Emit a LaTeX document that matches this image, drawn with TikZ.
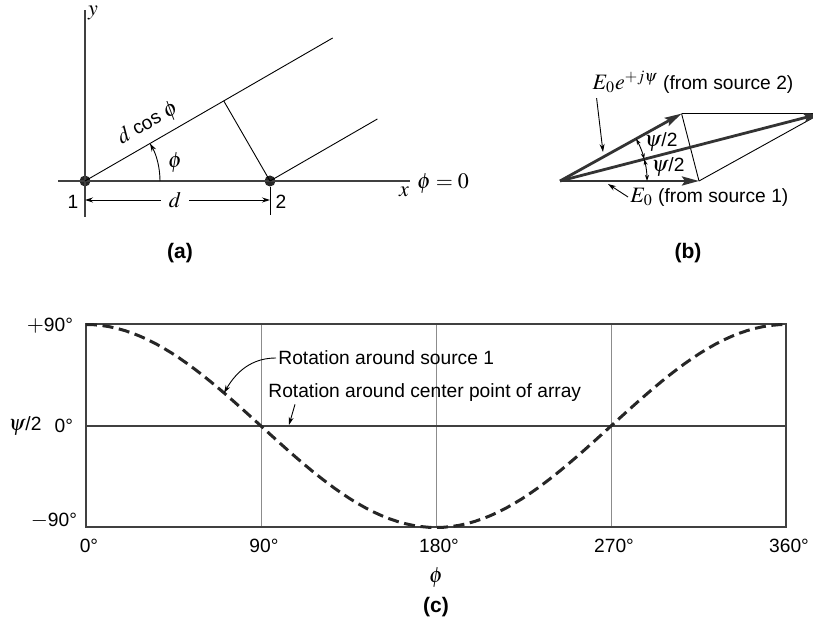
\documentclass[tikz,border=0pt]{standalone}
\usepackage{mathptmx}
\usepackage[no-math]{fontspec}
\setmainfont{Liberation Sans}
\DeclareMathSizes{9.6}{11}{8}{6}
\usetikzlibrary{positioning, arrows.meta, calc}

\begin{document}
\begin{tikzpicture}[
  x=0.5pt, y=0.5pt,
  font=\fontsize{9.6}{11}\selectfont,
  axis/.style={black!75, line width=0.7pt},
  ray/.style={black, line width=0.45pt},
  dot/.style={circle, fill=black!85, inner sep=0pt, minimum size=5.5pt},
  vec/.style={black!80, line width=1.4pt,
    -{Stealth[length=8.5pt, width=4.5pt, inset=1.5pt]}},
  lead/.style={black, line width=0.45pt, -{Stealth[length=4pt, width=2.5pt]}},
  dim/.style={black, line width=0.45pt, -{Stealth[length=4pt, width=2.5pt]}},
  ang/.style={black, line width=0.45pt,
    {Stealth[length=3pt, width=2pt]}-{Stealth[length=3pt, width=2pt]}},
  frame/.style={black!75, line width=0.7pt},
  gridline/.style={black!45, line width=0.4pt},
  curve/.style={black!85, line width=1.5pt, dash pattern=on 5.5pt off 2.8pt},
  panel/.style={font=\fontsize{10.5}{12}\selectfont\bfseries},
]
\useasboundingbox (0,0) rectangle (813,631);

% (a) geometry of the two sources
\node[dot] (s1) at (85,450) {};
\node[dot] (s2) at (270,450) {};
\coordinate (ytop) at (85,621);
\coordinate (ybot) at (85,414);
\coordinate (xl) at (58,450);
\coordinate (xr) at (410,450);
\draw[axis] (ybot) -- (ytop);
\draw[axis] (xl) -- (xr);
\node (ylab) at (93,618) {$y$};
\node (xlab) at (404,439) {$x$};
\node (phi0) at (443,447) {$\phi = 0$};

\coordinate (ray1) at ($(s1.center)+(30:143pt)$);
\coordinate (ray2) at ($(s2.center)+(30:62pt)$);
\coordinate (foot) at ($(s1.center)+(30:80.1pt)$);
\draw[ray] (s1.center) -- (ray1);
\draw[ray] (s2.center) -- (ray2);
\draw[ray] (foot) -- (s2.center);
\path (s1.center) -- (foot) node[pos=0.52, sloped, above=0.5pt] (dcos) {$d$ cos $\phi$};
\draw[dim] ($(s1.center)+(37.5pt,0)$) arc[start angle=0, end angle=30, radius=37.5pt];
\node (phia) at (175,468) {$\phi$};

\node (n1) at (73,429) {1};
\node (n2) at (281,429) {2};
\coordinate (tk1) at (270,444);
\coordinate (tk2) at (270,416);
\draw[ray] (tk1) -- (tk2);
\coordinate (dl) at (85,431);
\coordinate (dr) at (270,431);
\node[inner sep=4pt] (dlab) at (175,431) {$d$};
\draw[dim] (dlab) -- (dl);
\draw[dim] (dlab) -- (dr);
\node[panel] (capa) at (180,378) {(a)};

% (b) phasor sum
\coordinate (O) at (560,450);
\coordinate (A) at (699,450);
\coordinate (B) at ($(O)+(29:69.5pt)$);
\coordinate (R) at ($(A)+(29:69.5pt)$);
\draw[ray] (B) -- (R);
\draw[ray] (A) -- (R);
\draw[ray] (B) -- (A);
\draw[vec] (O) -- (A);
\draw[vec] (O) -- (B);
\draw[vec] (O) -- (R);
\draw[ang] ($(O)+(0:43.5pt)$) arc[start angle=0, end angle=14.5, radius=43.5pt];
\draw[ang] ($(O)+(14.5:43.5pt)$) arc[start angle=14.5, end angle=29, radius=43.5pt];
\node (psiu) at (661,489) {$\psi$/2};
\node (psil) at (668,464) {$\psi$/2};

\node (e2) at (693,549) {$E_0e^{+j\psi}$ (from source 2)};
\node[anchor=west, inner sep=1pt] (e1) at (628,434) {$E_0$ (from source 1)};
\coordinate (tip2) at (603,479);
\coordinate (tip1) at (608,447);
\draw[lead] ($(e2.south west)+(11,2)$) -- (tip2);
\draw[lead] (e1.west) -- (tip1);
\node[panel] (capb) at (688,378) {(b)};

% (c) phase versus angle
\foreach \g in {1,2,3}
  \draw[gridline] ({86+175*\g},104) -- ({86+175*\g},307);
\draw[frame] (86,104) rectangle (786,307);
\draw[frame] (86,205) -- (786,205);
\draw[curve] plot[domain=0:360, samples=91] ({86+\x*1.94444}, {205+101.5*cos(\x)});

\node[anchor=east] (yp) at (80,305) {$+$90°};
\node[anchor=east] (y0) at (80,205) {0°};
\node[anchor=east] (ym) at (84,110) {$-$90°};
\node (ypsi) at (25,205) {$\psi$/2};
\foreach \v [count=\i from 0] in {0,90,180,270,360}
  \node (tick\v) at ({89+175*\i},85) {\v°};
\node (phic) at (436,53) {$\phi$};
\node[panel] (capc) at (436,24) {(c)};

\node[anchor=west, inner sep=1pt] (rot1) at (276,273) {Rotation around source 1};
\node[anchor=west, inner sep=1pt] (rot2) at (266,238) {Rotation around center point of array};
\coordinate (tipa) at (224,238);
\coordinate (tipb) at (289,206);
\draw[lead] (rot1.west) to[out=180, in=60] (tipa);
\draw[lead] ($(rot2.south west)+(29,0)$) -- (tipb);
\end{tikzpicture}
\end{document}
